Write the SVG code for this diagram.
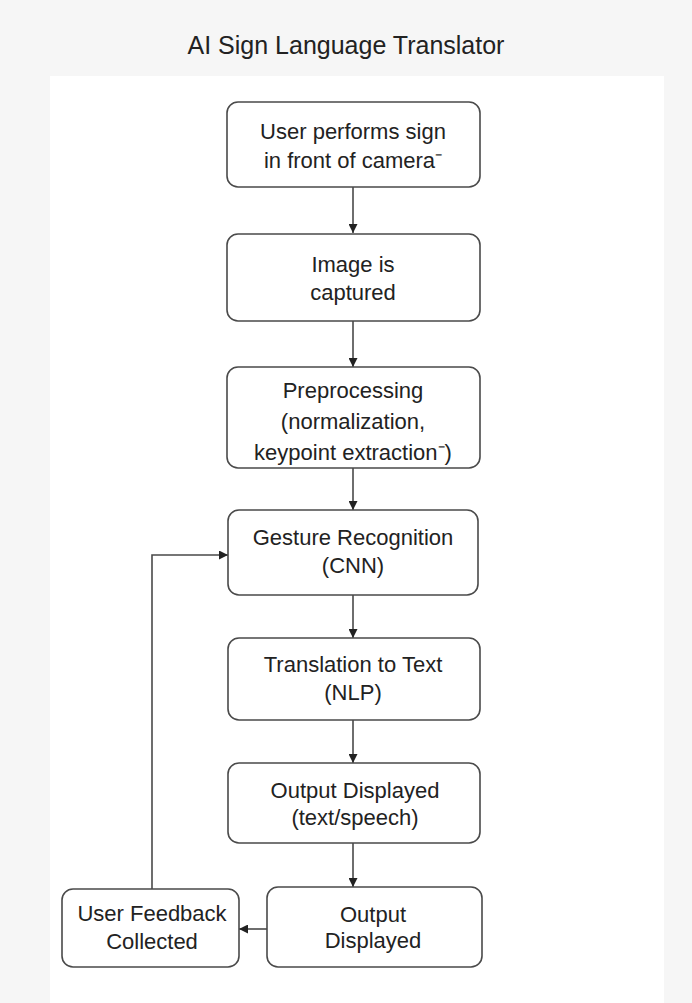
<svg xmlns="http://www.w3.org/2000/svg" width="692" height="1003" viewBox="0 0 692 1003">
<defs>
<marker id="ah" viewBox="0 0 10 10" refX="10" refY="5" markerWidth="9" markerHeight="9" markerUnits="userSpaceOnUse" orient="auto">
<path d="M0,0 L10,5 L0,10 Z" fill="#222"/>
</marker>
<style>
.node rect{fill:#fff;stroke:#4a4a4a;stroke-width:1.6}
.node text, .title{font-family:"Liberation Sans",Arial,sans-serif;fill:#222;text-anchor:middle}
.node text{font-size:22px}
.title{font-size:25px}
.edge{fill:none;stroke:#4a4a4a;stroke-width:1.6;marker-end:url(#ah)}
</style>
</defs>
<rect width="692" height="1003" fill="#f6f6f6"/>
<rect x="50" y="76" width="614" height="940" fill="#fff"/>
<text class="title" x="346" y="54">AI Sign Language Translator</text>
<g id="connectors">
<path class="edge" d="M353,187 V233"/>
<path class="edge" d="M353,321 V367"/>
<path class="edge" d="M353,468 V510"/>
<path class="edge" d="M353,595 V638"/>
<path class="edge" d="M353,720 V763"/>
<path class="edge" d="M353,843 V887"/>
<path class="edge" d="M267,929 H239"/>
<path class="edge" d="M152,889 V555 H228"/>
</g>
<g id="n1" class="node"><rect x="227" y="102" width="253" height="85" rx="11"/><text x="353" y="139">User performs sign</text><text x="353" y="168">in front of camera⁻</text></g>
<g id="n2" class="node"><rect x="227" y="234" width="253" height="87" rx="11"/><text x="353" y="272">Image is</text><text x="353" y="300">captured</text></g>
<g id="n3" class="node"><rect x="227" y="367" width="253" height="101" rx="11"/><text x="353" y="398">Preprocessing</text><text x="353" y="429">(normalization,</text><text x="353" y="460">keypoint extraction⁻)</text></g>
<g id="n4" class="node"><rect x="228" y="510" width="250" height="85" rx="11"/><text x="353" y="545">Gesture Recognition</text><text x="353" y="573">(CNN)</text></g>
<g id="n5" class="node"><rect x="228" y="638" width="252" height="82" rx="11"/><text x="353" y="672">Translation to Text</text><text x="353" y="700">(NLP)</text></g>
<g id="n6" class="node"><rect x="228" y="763" width="252" height="80" rx="11"/><text x="355" y="798">Output Displayed</text><text x="355" y="825">(text/speech)</text></g>
<g id="n7" class="node"><rect x="267" y="887" width="215" height="80" rx="11"/><text x="373" y="922">Output</text><text x="373" y="948">Displayed</text></g>
<g id="n8" class="node"><rect x="62" y="889" width="177" height="78" rx="11"/><text x="152" y="921">User Feedback</text><text x="152" y="949">Collected</text></g>
</svg>
